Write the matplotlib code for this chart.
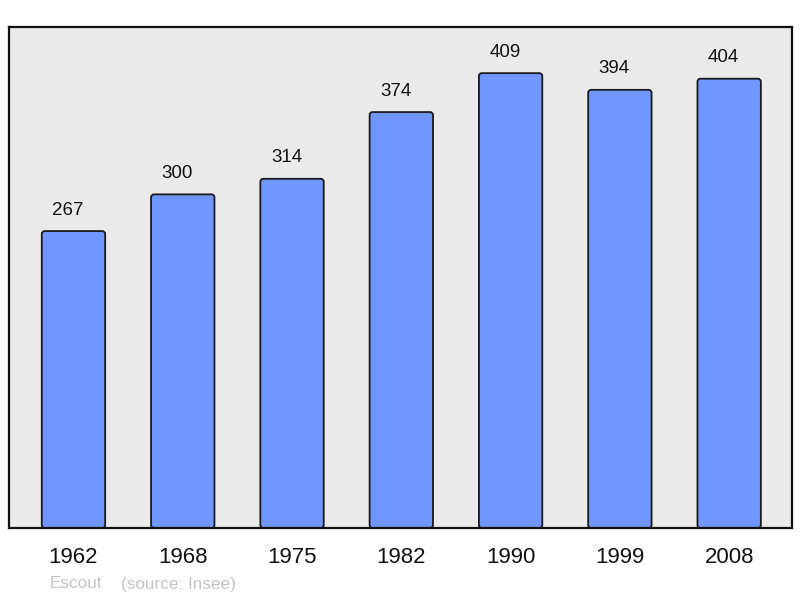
import matplotlib
matplotlib.use("Agg")
import matplotlib.pyplot as plt
from matplotlib.patches import FancyBboxPatch

years = ["1962", "1968", "1975", "1982", "1990", "1999", "2008"]
population = [267, 300, 314, 374, 409, 394, 404]
commune = "Escout"
source = "(source: Insee)"

plt.rcParams['font.family'] = ['Liberation Sans', 'DejaVu Sans']

fig = plt.figure(figsize=(8.0, 5.98), dpi=100)
fig.patch.set_facecolor('white')
ax = fig.add_axes([9/800, 1 - 528/598, 783/800, 501/598])
ax.set_facecolor('#ebebeb')

x = list(range(len(years)))
bars = ax.bar(x, population, width=0.58, color='#7096ff', edgecolor='#1a1a1a', linewidth=1.3)
ax.set_xlim(-0.59, 6.575)
ax.set_ylim(0, 450.5)

# replace bars with slightly rounded versions
px_per_x = 783 / (6.575 + 0.59)
px_per_y = 501 / 450.5
r = 3 / px_per_x
aspect = (3 / px_per_y) / r
for b in bars:
    bx, by = b.get_x(), b.get_y()
    w, h = b.get_width(), b.get_height()
    p = FancyBboxPatch((bx, by), w, h, boxstyle=f"round,pad=0,rounding_size={r}",
                       mutation_aspect=aspect, facecolor='#7096ff', edgecolor='#1a1a1a',
                       linewidth=1.3, zorder=2)
    ax.add_patch(p)
    b.set_visible(False)
    ax.annotate(str(int(h)), (bx + w / 2, h), xytext=(-4, 9), textcoords='offset points',
                ha='center', va='bottom', fontsize=13.5, color='#111111')

ax.set_xticks(x)
ax.set_xticklabels(years, fontsize=16, color='#111111')
ax.tick_params(axis='x', length=0, pad=14)
ax.set_yticks([])
for s in ax.spines.values():
    s.set_linewidth(1.6)
    s.set_color('#111111')

fig.text(50/800, 1 - 584/598, commune, fontsize=12.3, color='#c4c4c4', ha='left', va='center')
fig.text(121/800, 1 - 584/598, source, fontsize=12.3, color='#c4c4c4', ha='left', va='center')

fig.savefig('out.png', dpi=100)
